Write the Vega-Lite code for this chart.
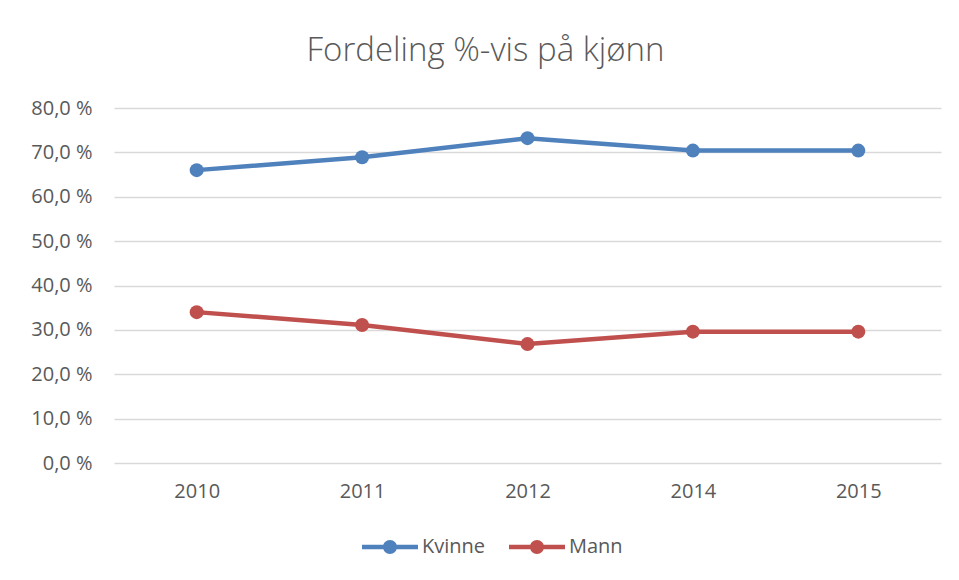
{
  "$schema": "https://vega.github.io/schema/vega-lite/v6.json",
  "width": 827,
  "height": 355,
  "autosize": {"type": "none"},
  "padding": {"left": 114, "top": 108, "right": 18, "bottom": 117},
  "background": "white",
  "title": {
    "text": "Fordeling %-vis på kjønn",
    "font": "Open Sans",
    "fontSize": 33,
    "fontWeight": 300,
    "color": "#595959",
    "anchor": "middle",
    "dx": -42,
    "offset": 30
  },
  "config": {
    "view": {"stroke": null},
    "axis": {
      "labelFont": "Open Sans",
      "labelFontSize": 20,
      "labelColor": "#595959",
      "ticks": false,
      "domain": false,
      "title": null
    }
  },
  "data": {
    "values": [
      {"year": "2010", "kjonn": "Kvinne", "andel": 66.0},
      {"year": "2011", "kjonn": "Kvinne", "andel": 68.9},
      {"year": "2012", "kjonn": "Kvinne", "andel": 73.2},
      {"year": "2014", "kjonn": "Kvinne", "andel": 70.4},
      {"year": "2015", "kjonn": "Kvinne", "andel": 70.4},
      {"year": "2010", "kjonn": "Mann", "andel": 34.0},
      {"year": "2011", "kjonn": "Mann", "andel": 31.1},
      {"year": "2012", "kjonn": "Mann", "andel": 26.8},
      {"year": "2014", "kjonn": "Mann", "andel": 29.6},
      {"year": "2015", "kjonn": "Mann", "andel": 29.6}
    ]
  },
  "encoding": {
    "x": {
      "field": "year",
      "type": "ordinal",
      "sort": null,
      "scale": {"type": "point", "padding": 0.5},
      "axis": {"labelAngle": 0, "grid": false, "labelPadding": 18}
    },
    "y": {
      "field": "andel",
      "type": "quantitative",
      "scale": {"domain": [0, 80], "nice": false},
      "axis": {
        "values": [0, 10, 20, 30, 40, 50, 60, 70, 80],
        "labelExpr": "replace(format(datum.value, '.1f'), '.', ',') + ' %'",
        "grid": true,
        "gridColor": "#D9D9D9",
        "gridWidth": 1.3,
        "labelPadding": 22
      }
    },
    "color": {
      "field": "kjonn",
      "type": "nominal",
      "scale": {"domain": ["Kvinne", "Mann"], "range": ["#4F81BD", "#C0504D"]},
      "legend": {
        "title": null,
        "orient": "none",
        "direction": "horizontal",
        "legendX": 248,
        "legendY": 411,
        "symbolType": "M-1,-0.08L1,-0.08L1,0.08L-1,0.08Z M-0.25,0A0.25,0.25,0,1,1,0.25,0A0.25,0.25,0,1,1,-0.25,0Z",
        "symbolSize": 3136,
        "symbolStrokeWidth": 0,
        "labelFont": "Open Sans",
        "labelFontSize": 20,
        "labelColor": "#595959",
        "labelOffset": 4,
        "columnPadding": 23,
        "encode": {
          "symbols": {
            "update": {
              "fill": {"scale": "color", "field": "value"},
              "stroke": {"value": "transparent"},
              "opacity": {"value": 1}
            }
          }
        }
      }
    }
  },
  "layer": [
    {"mark": {"type": "line", "strokeWidth": 4.5}},
    {"mark": {"type": "point", "filled": true, "size": 196, "opacity": 1}}
  ]
}
